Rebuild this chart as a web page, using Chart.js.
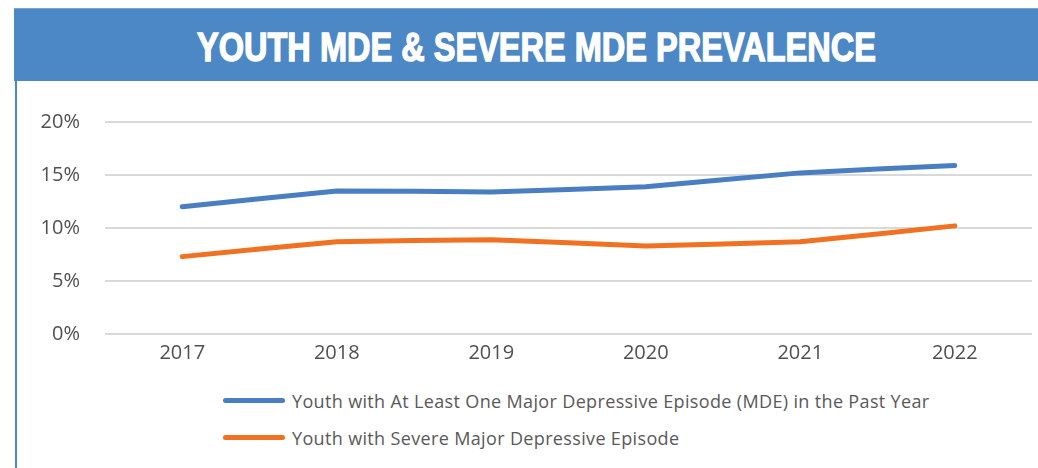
<!DOCTYPE html>
<html>
<head>
<meta charset="utf-8">
<script src="https://cdn.jsdelivr.net/npm/chart.js@4"></script>
<style>
  body { margin: 0; width: 1038px; height: 468px; background: #fff; position: relative; overflow: hidden; font-family: "Open Sans", sans-serif; }
  #header { position: absolute; left: 14px; top: 8px; width: 1024px; height: 73px; background: #4c87c6; border-top: 1px solid #7aa6d6; box-sizing: border-box; }
  #title { position: absolute; left: 0; top: 0; white-space: nowrap; color: #fff; font-family: "Liberation Sans Narrow", "Liberation Sans", sans-serif; font-weight: bold; font-size: 41px; -webkit-text-stroke: 1.4px #fff; transform-origin: 0 0; }
  #leftline { position: absolute; left: 15px; top: 81px; width: 2px; height: 387px; background: #4c87c6; }
  #wrap { position: absolute; left: 17px; top: 81px; width: 1021px; height: 290px; }
  #legend { position: absolute; left: 223px; top: 382px; }
  .item { display: flex; align-items: center; height: 37px; }
  .swatch { width: 62px; height: 5px; border-radius: 3px; margin-right: 7px; }
  .label { font-size: 18px; letter-spacing: 0.35px; color: #595959; line-height: 20px; }
</style>
</head>
<body>
<div id="header"><div id="title">YOUTH MDE &amp; SEVERE MDE PREVALENCE</div></div>
<div id="leftline"></div>
<div id="wrap"><canvas id="chart"></canvas></div>
<div id="legend"></div>
<script>
const years = ["2017", "2018", "2019", "2020", "2021", "2022"];
const mdeValues = [12.0, 13.5, 13.4, 13.9, 15.2, 15.9];
const severeValues = [7.3, 8.7, 8.9, 8.3, 8.7, 10.2];
const seriesLabels = [
  "Youth with At Least One Major Depressive Episode (MDE) in the Past Year",
  "Youth with Severe Major Depressive Episode",
];
const seriesColors = ["#4a7ec2", "#f07122"];

// titre : police condensée étirée pour coller à la largeur
const title = document.getElementById("title");
const tw = title.getBoundingClientRect().width;
const th = title.getBoundingClientRect().height;
const sx = 679 / tw;
title.style.transform = "scaleX(" + sx + ")";
title.style.left = (197 - 14) + "px";
title.style.top = (47 - 9 - th / 2) + "px";

const ctx = document.getElementById("chart").getContext("2d");
new Chart(ctx, {
  type: "line",
  data: {
    labels: years,
    datasets: [
      { label: seriesLabels[0], data: mdeValues, borderColor: seriesColors[0], backgroundColor: seriesColors[0] },
      { label: seriesLabels[1], data: severeValues, borderColor: seriesColors[1], backgroundColor: seriesColors[1] },
    ].map((d) => ({ ...d, borderWidth: 5, pointRadius: 0, tension: 0.05, borderCapStyle: "round", borderJoinStyle: "round" })),
  },
  options: {
    responsive: true,
    maintainAspectRatio: false,
    animation: false,
    layout: { padding: { top: 41, right: 6, left: 0, bottom: 0 } },
    plugins: { legend: { display: false }, tooltip: { enabled: false } },
    scales: {
      x: {
        offset: true,
        grid: { display: false, drawTicks: false },
        border: { display: false },
        ticks: { color: "#505050", font: { family: "Open Sans", size: 20 }, padding: 7 },
        afterFit: (s) => { s.height = 37; },
      },
      y: {
        min: 0,
        max: 20,
        grid: { color: "#d9d9d9", lineWidth: 2, drawTicks: false },
        border: { display: false },
        ticks: { stepSize: 5, color: "#505050", font: { family: "Open Sans", size: 20 }, padding: 25, callback: (v) => v + "%" },
        afterFit: (s) => { s.width = 88; },
      },
    },
  },
});

const legend = document.getElementById("legend");
seriesLabels.forEach((l, i) => {
  const row = document.createElement("div");
  row.className = "item";
  row.innerHTML = '<div class="swatch" style="background:' + seriesColors[i] + '"></div><div class="label">' + l + "</div>";
  legend.appendChild(row);
});
</script>
</body>
</html>
